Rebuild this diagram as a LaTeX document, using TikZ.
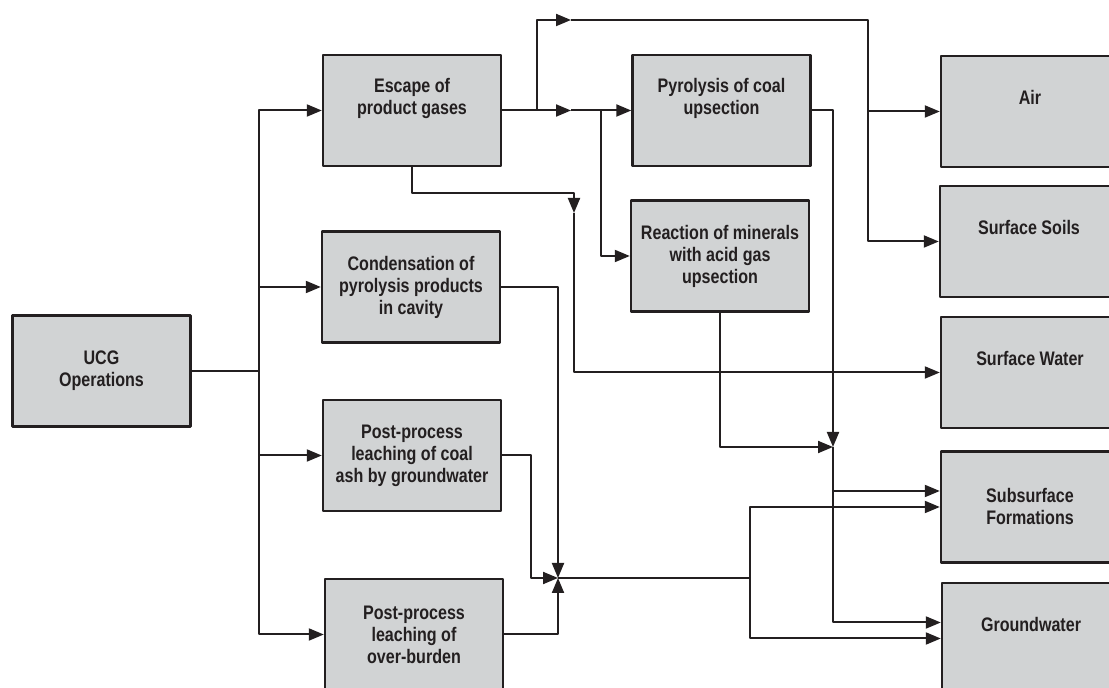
\documentclass[tikz,border=0pt]{standalone}
\usepackage{fontspec}
\setmainfont{Liberation Sans}[FakeStretch=0.82]
\usetikzlibrary{arrows.meta}
\definecolor{boxgray}{RGB}{209,211,212}
\definecolor{inkdark}{RGB}{35,31,32}
\begin{document}
\begin{tikzpicture}[x=0.5pt, y=-0.5pt, line join=round, >={Triangle[length=7.5pt,width=6pt]},
		font=\fontsize{9.8}{11}\selectfont\bfseries,
		blk/.style={draw=inkdark, fill=boxgray, line width=1.2pt, minimum width=89pt, minimum height=55.5pt, align=center, text=inkdark, inner sep=2pt},
		flow/.style={draw=inkdark, line width=1pt, ->}]
				\useasboundingbox (0,0) rectangle (1109,688);
				\clip (0,0) rectangle (1109,688);
				\path	(571,20) coordinate (j1)
				(571,110.5) coordinate (j2)
				(574,213) coordinate (j3)
					(558,578) coordinate (j4)
				(833,447) coordinate (j5)
					(868,20) coordinate (lane1)
				(750,578) coordinate (lane2);
				\node[blk] (ucg) at (101.5,371) {UCG\\Operations};
				\node[blk] (esc) at (412,110.5) {Escape of\\product gases\\\strut};
				\node[blk] (cond) at (411,287) {Condensation of\\pyrolysis products\\in cavity};
				\node[blk] (ash) at (412,455.5) {Post-process\\leaching of coal\\ash by groundwater};
				\node[blk] (over) at (414,634.5) {Post-process\\leaching of\\over-burden};
				\node[blk] (pyro) at (721.5,110.5) {Pyrolysis of coal\\upsection\\\strut};
				\node[blk] (react) at (720,256) {Reaction of minerals\\with acid gas\\upsection};
				\node[blk] (air) at (1030,111.5) {Air\\\strut};
				\node[blk] (soils) at (1029,241.5) {Surface Soils\\\strut};
				\node[blk] (water) at (1030,372.5) {Surface Water\\\strut};
				\node[blk] (sub) at (1030,507) {Subsurface\\Formations};
				\node[blk] (ground) at (1031,638.5) {Groundwater\\\strut};
				\foreach \t in {esc,cond,ash,over} \draw[flow] (ucg.east) -- ++(67,0) |- (\t.west);
				\draw[flow] (esc.east) -- ++(35,0) |- (j1);
				\draw[flow] (esc.east) -- (j2);
				\draw[flow] (esc.south) -- ++(0,26) -| (j3);
				\draw[flow] (j1) -- (lane1) |- (air.west);
				\draw[flow] (lane1) |- (soils.west);
				\draw[flow] (j2) -- (pyro.west);
				\draw[flow] (j2) -- ++(30,0) |- (react.west);
				\draw[flow] (j3) |- (water.west);
				\draw[flow] (cond.east) -| (j4);
				\draw[flow] (ash.east) -- ++(29,0) |- (j4);
				\draw[flow] (over.east) -| (j4);
				\draw[flow] (j4) -- (lane2) |- (sub.west);
				\draw[flow] (lane2) |- (ground.west);
				\draw[flow] (pyro.east) -| (j5);
				\draw[flow] (react.south) |- (j5);
				\draw[flow] (j5) |- ([yshift=8pt]sub.west);
				\draw[flow] (j5) |- ([yshift=8pt]ground.west);
				%\draw[help lines] (0,0) grid (1109,688);
		\end{tikzpicture}
\end{document}
